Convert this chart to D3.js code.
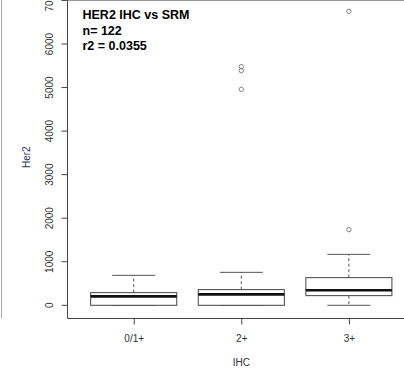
<!DOCTYPE html>
<html>
<head>
<meta charset="utf-8">
<script src="https://cdn.jsdelivr.net/npm/d3@7"></script>
<style>
  body { margin: 0; background: #fff; }
  svg { display: block; font-family: "Liberation Sans", Arial, sans-serif; }
</style>
</head>
<body>
<div id="chart"></div>
<script>
// box statistics (Her2 by IHC group)
var categories = ["0/1+", "2+", "3+"];
var lowerWhisker = [0, 0, 0];
var q1 = [0, 0, 222];
var median = [206, 252, 344];
var q3 = [291, 360, 635];
var upperWhisker = [688, 757, 1170];
var outliers = [[], [4960, 5387, 5479], [1736, 6751]];
var yTicks = [0, 1000, 2000, 3000, 4000, 5000, 6000, 7000];
var titleLines = ["HER2 IHC vs SRM", "n= 122", "r2 = 0.0355"];

var width = 404, height = 372;
var svg = d3.select("#chart").append("svg")
    .attr("width", width)
    .attr("height", height);

// R style ranges: x from 0.38 to 3.62, y extended 4%
var x = d3.scaleLinear().domain([0.38, 3.62]).range([67, 415.6]);
var y = d3.scaleLinear().domain([0, 6000]).range([305.3, 44]);
var bottom = 318.5, left = 67.5;
var boxW = x(1.4) - x(1);

// leftover panel edge at far left
svg.append("line")
    .attr("x1", 1.5).attr("x2", 1.5).attr("y1", 0).attr("y2", bottom)
    .attr("stroke", "#aaa").attr("stroke-width", 1);

// plot frame
var frame = svg.append("g").attr("stroke", "#444").attr("stroke-width", 1);
frame.append("line").attr("x1", left).attr("x2", width).attr("y1", bottom).attr("y2", bottom);
frame.append("line").attr("x1", left).attr("x2", left).attr("y1", 0).attr("y2", bottom);
frame.append("line").attr("x1", left).attr("x2", width).attr("y1", 0.5).attr("y2", 0.5)
    .attr("stroke", "#999");

// y axis
var yAxis = d3.axisLeft(y).tickValues(yTicks).tickSize(6).tickFormat(d3.format("d"));
var gy = svg.append("g").attr("transform", "translate(" + left + ",0)").call(yAxis);
gy.select(".domain").remove();
gy.selectAll(".tick").attr("transform", null);
gy.selectAll(".tick line")
    .attr("stroke", "#444")
    .attr("transform", function(d) { return "translate(0," + y(d) + ")"; });
gy.selectAll(".tick text")
    .attr("transform", function(d) { return "translate(-14.5," + y(d) + ") rotate(-90)"; })
    .attr("x", 0).attr("y", 0).attr("dy", 0)
    .attr("text-anchor", "middle")
    .style("font-size", "10px").attr("fill", "#333");

// x axis
var xAxis = d3.axisBottom(x).tickValues([1, 2, 3])
    .tickFormat(function(d) { return categories[d - 1]; })
    .tickSize(6).tickPadding(10);
var gx = svg.append("g").attr("transform", "translate(0," + bottom + ")").call(xAxis);
gx.select(".domain").remove();
gx.selectAll(".tick line").attr("stroke", "#444");
gx.selectAll(".tick text").style("font-size", "10px").attr("fill", "#333");

// axis titles
svg.append("text")
    .attr("x", x(2)).attr("y", 366)
    .attr("text-anchor", "middle")
    .style("font-size", "10px").attr("fill", "#333")
    .text("IHC");
svg.append("text")
    .attr("transform", "translate(30," + y(3400) + ") rotate(-90)")
    .attr("text-anchor", "middle")
    .style("font-size", "10px").attr("fill", "#2d3a4d")
    .text("Her2");

// boxes
var boxes = svg.append("g").selectAll("g")
    .data(categories)
    .join("g");

boxes.append("line")
    .attr("x1", function(d, i) { return x(i + 1); })
    .attr("x2", function(d, i) { return x(i + 1); })
    .attr("y1", function(d, i) { return y(q3[i]); })
    .attr("y2", function(d, i) { return y(upperWhisker[i]); })
    .attr("stroke", "#555").attr("stroke-dasharray", "3,2.5");
boxes.append("line")
    .attr("x1", function(d, i) { return x(i + 1); })
    .attr("x2", function(d, i) { return x(i + 1); })
    .attr("y1", function(d, i) { return y(q1[i]); })
    .attr("y2", function(d, i) { return y(lowerWhisker[i]); })
    .attr("stroke", "#555").attr("stroke-dasharray", "3,2.5");
// whisker caps
boxes.append("line")
    .attr("x1", function(d, i) { return x(i + 1) - boxW / 2; })
    .attr("x2", function(d, i) { return x(i + 1) + boxW / 2; })
    .attr("y1", function(d, i) { return y(upperWhisker[i]); })
    .attr("y2", function(d, i) { return y(upperWhisker[i]); })
    .attr("stroke", "#555");
boxes.append("line")
    .attr("x1", function(d, i) { return x(i + 1) - boxW / 2; })
    .attr("x2", function(d, i) { return x(i + 1) + boxW / 2; })
    .attr("y1", function(d, i) { return y(lowerWhisker[i]); })
    .attr("y2", function(d, i) { return y(lowerWhisker[i]); })
    .attr("stroke", "#555");

boxes.append("rect")
    .attr("x", function(d, i) { return x(i + 0.6); })
    .attr("width", function(d, i) { return x(i + 1.4) - x(i + 0.6); })
    .attr("y", function(d, i) { return y(q3[i]); })
    .attr("height", function(d, i) { return y(q1[i]) - y(q3[i]); })
    .attr("fill", "#fff").attr("stroke", "#444").attr("stroke-width", 1);

boxes.append("line")
    .attr("x1", function(d, i) { return x(i + 0.6); })
    .attr("x2", function(d, i) { return x(i + 1.4); })
    .attr("y1", function(d, i) { return y(median[i]); })
    .attr("y2", function(d, i) { return y(median[i]); })
    .attr("stroke", "#111").attr("stroke-width", 2.6);

// outliers
boxes.each(function(d, i) {
  d3.select(this).selectAll("circle")
      .data(outliers[i])
      .join("circle")
      .attr("cx", x(i + 1))
      .attr("cy", function(v) { return y(v); })
      .attr("r", 2.2)
      .attr("fill", "none").attr("stroke", "#777").attr("stroke-width", 0.9);
});

// annotation
svg.append("g").selectAll("text")
    .data(titleLines)
    .join("text")
    .attr("x", 82.5)
    .attr("y", function(d, i) { return 19 + i * 15.5; })
    .style("font-size", "12.5px").style("font-weight", "bold")
    .attr("fill", "#000")
    .text(function(d) { return d; });
</script>
</body>
</html>
